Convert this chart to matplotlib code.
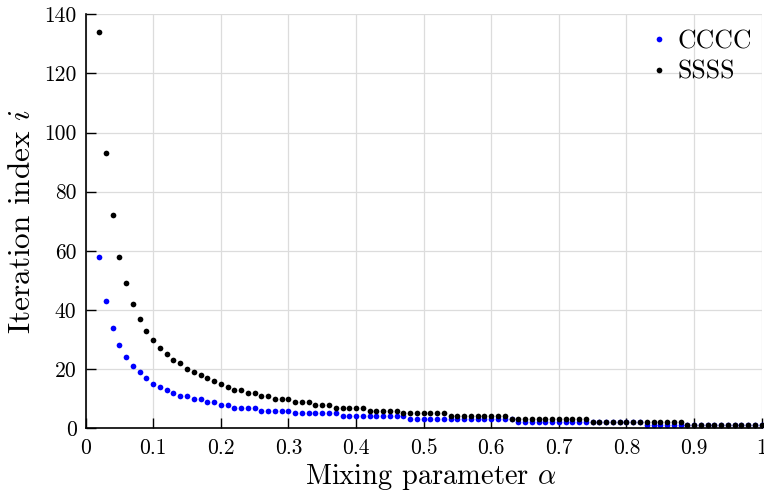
import numpy as np
import matplotlib
matplotlib.use("Agg")
import matplotlib.pyplot as plt
from matplotlib.ticker import FuncFormatter, MultipleLocator

plt.rcParams["font.family"] = "cmr10"
plt.rcParams["mathtext.fontset"] = "cm"
plt.rcParams["axes.formatter.use_mathtext"] = True

# mixing parameter grid
alpha = np.linspace(0.02, 1.0, 99)

# iterations needed for each alpha
cccc = [58, 43, 34, 28, 24, 21, 19, 17, 15, 14, 13, 12, 11, 11, 10, 10, 9, 9,
        8, 8, 7, 7, 7, 7,
        6, 6, 6, 6, 6,
        5, 5, 5, 5, 5, 5, 5,
        4, 4, 4, 4, 4, 4, 4, 4, 4, 4,
        3, 3, 3, 3, 3, 3, 3, 3, 3, 3, 3, 3, 3, 3, 3, 3,
        2, 2, 2, 2, 2, 2, 2, 2, 2, 2, 2, 2, 2, 2, 2, 2, 2, 2, 2,
        1, 1, 1, 1, 1, 1, 1, 1, 1, 1, 1, 1, 1, 1, 1, 1, 1, 1]
ssss = [134, 93, 72, 58, 49, 42, 37, 33, 30, 27, 25, 23, 22, 20, 19, 18, 17,
        16, 15, 14, 13, 13, 12, 12, 11, 11,
        10, 10, 10,
        9, 9, 9,
        8, 8, 8,
        7, 7, 7, 7, 7,
        6, 6, 6, 6, 6,
        5, 5, 5, 5, 5, 5, 5,
        4, 4, 4, 4, 4, 4, 4, 4, 4,
        3, 3, 3, 3, 3, 3, 3, 3, 3, 3, 3, 3,
        2, 2, 2, 2, 2, 2, 2, 2, 2, 2, 2, 2, 2, 2,
        1, 1, 1, 1, 1, 1, 1, 1, 1, 1, 1, 1]

fig = plt.figure(figsize=(7.64, 4.92), dpi=100)
ax = fig.add_axes([0.112, 0.1295, 0.885, 0.8415])

ax.plot(alpha, cccc, "o", color="#0000ff", ms=4.1, mew=0, label="CCCC", clip_on=False)
ax.plot(alpha, ssss, "o", color="black", ms=4.1, mew=0, label="SSSS", clip_on=False)

ax.set_xlim(0, 1)
ax.set_ylim(0, 140)
ax.xaxis.set_major_locator(MultipleLocator(0.1))
ax.yaxis.set_major_locator(MultipleLocator(20))
ax.xaxis.set_major_formatter(FuncFormatter(lambda v, p: "%g" % round(v, 2)))
ax.yaxis.set_major_formatter(FuncFormatter(lambda v, p: "%g" % v))

ax.grid(True, color="#dcdcdc", lw=0.9)
ax.set_axisbelow(True)
for s in ["top", "right"]:
    ax.spines[s].set_visible(False)
for s in ["left", "bottom"]:
    ax.spines[s].set_linewidth(1.2)
ax.tick_params(direction="in", length=7, width=1, labelsize=15.5)
ax.tick_params(axis="x", pad=7)
ax.tick_params(axis="y", pad=6.5)

ax.set_xlabel(r"Mixing parameter $\alpha$", fontsize=20.5)
ax.xaxis.set_label_coords(0.51, -0.082)
ax.set_ylabel(r"Iteration index $i$", fontsize=22.5, labelpad=6)

ax.legend(loc="upper right", bbox_to_anchor=(1.008, 1.0), frameon=False,
          fontsize=18.5, handlelength=0.6, handletextpad=0.4,
          borderaxespad=0.2, labelspacing=0.25)

fig.savefig("out.png", dpi=100)
